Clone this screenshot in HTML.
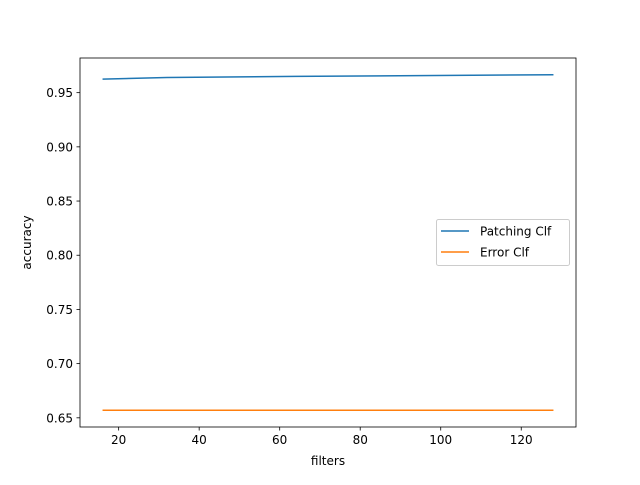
<!DOCTYPE html>
<html><head><meta charset="utf-8"><style>body{margin:0;background:#fff}svg{font-family:"DejaVu Sans","Liberation Sans",sans-serif}</style></head>
<body>
<svg id="chart" width="640" height="480" xmlns="http://www.w3.org/2000/svg"></svg>
<script>
const filters = [16, 32, 64, 128];
const patchingClf = [0.9625, 0.964, 0.965, 0.9665];
const errorClf = [0.657, 0.657, 0.657, 0.657];
const xTicks = [20, 40, 60, 80, 100, 120];
const yTicks = [0.65, 0.70, 0.75, 0.80, 0.85, 0.90, 0.95];
const seriesNames = ["Patching Clf", "Error Clf"];
const colors = ["#1f77b4", "#ff7f0e"];

const svg = document.getElementById('chart');
const NS = "http://www.w3.org/2000/svg";
const L = 80, R = 576, T = 58, B = 427;
const xmin0 = Math.min(...filters), xmax0 = Math.max(...filters);
const xm = (xmax0 - xmin0) * 0.05;
const xmin = xmin0 - xm, xmax = xmax0 + xm;
const all = patchingClf.concat(errorClf);
const ymin0 = Math.min(...all), ymax0 = Math.max(...all);
const ym = (ymax0 - ymin0) * 0.05;
const ymin = ymin0 - ym, ymax = ymax0 + ym;
const xs = v => L + (v - xmin) / (xmax - xmin) * (R - L);
const ys = v => B - (v - ymin) / (ymax - ymin) * (B - T);
function mk(tag, attrs, text) {
  const e = document.createElementNS(NS, tag);
  for (const k in attrs) e.setAttribute(k, attrs[k]);
  if (text !== undefined) e.textContent = text;
  svg.appendChild(e);
  return e;
}
xTicks.forEach(t => {
  const x = xs(t);
  const tk = mk('line', {x1: x, x2: x, y1: B, y2: B + 3.5, stroke: '#000', 'stroke-width': 0.8});
  
  
  const lb = mk('text', {x: x, y: B + 17, 'font-size': 12, 'text-anchor': 'middle'}, t);
  
  
});
yTicks.forEach(t => {
  const y = ys(t);
  const tk = mk('line', {x1: L - 3.5, x2: L, y1: y, y2: y, stroke: '#000', 'stroke-width': 0.8});
  
  
  const lb = mk('text', {x: L - 7, y: y + 4.5, 'font-size': 12, 'text-anchor': 'end'}, t.toFixed(2));
  
  
});
[patchingClf, errorClf].forEach((s, i) => {
  const p = mk('polyline', {points: s.map((v, j) => xs(filters[j]) + ',' + ys(v)).join(' '), fill: 'none', stroke: colors[i], 'stroke-width': 1.5});
  
  
});
const frame = mk('rect', {x: L, y: T, width: R - L, height: B - T, fill: 'none', stroke: '#000', 'stroke-width': 0.8});


const xt = mk('text', {x: (L + R) / 2, y: 465, 'font-size': 12, 'text-anchor': 'middle'}, 'filters');


const yt = mk('text', {x: 31, y: (T + B) / 2, 'font-size': 12, 'text-anchor': 'middle', transform: `rotate(-90 31 ${(T + B) / 2})`}, 'accuracy');


const lg = mk('rect', {x: 436.5, y: 219.5, width: 133, height: 46, rx: 2, fill: '#fff', 'fill-opacity': 0.8, stroke: '#ccc'});


seriesNames.forEach((n, i) => {
  const y = 231 + i * 21;
  const ln = mk('line', {x1: 441, x2: 469, y1: y, y2: y, stroke: colors[i], 'stroke-width': 1.5});
  
  
  const tx = mk('text', {x: 480, y: y + 4.5, 'font-size': 12}, n);
  
  
});
</script>
</body></html>
